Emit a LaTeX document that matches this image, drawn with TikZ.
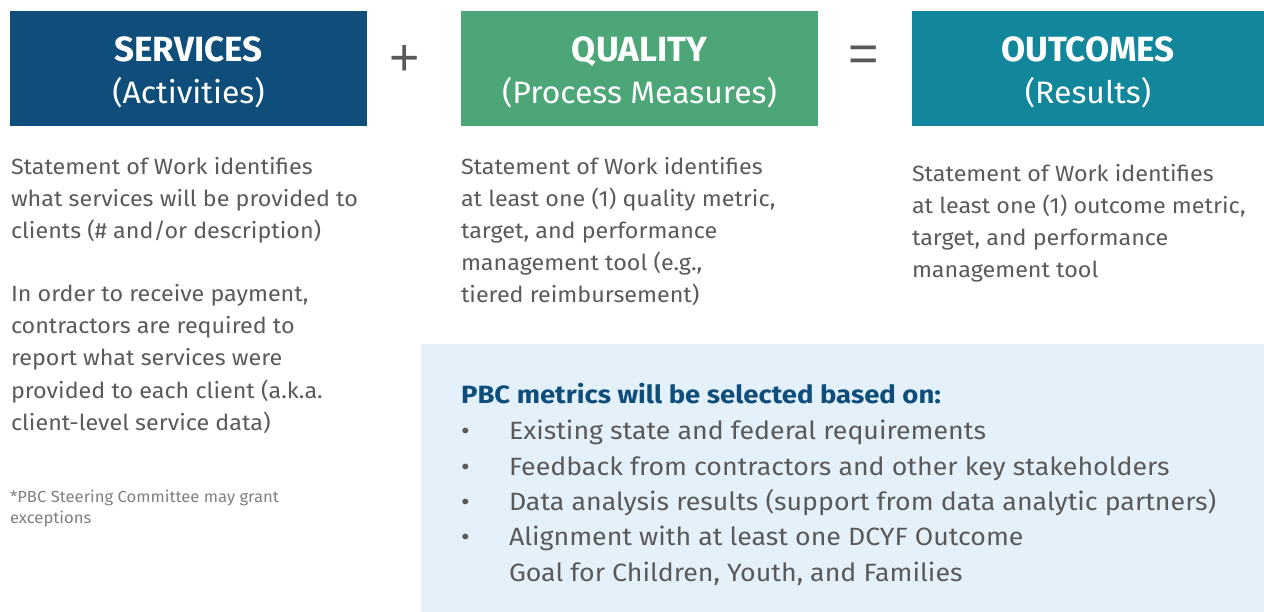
\documentclass[tikz,border=0pt]{standalone}
\usepackage{fontspec}
\setmainfont{Fira Sans}
\newfontfamily\bodyfont[FakeStretch=1.06]{Fira Sans}
\newfontfamily\bulfont[FakeStretch=1.07]{Fira Sans}
\newfontfamily\headfont[FakeStretch=1.10]{Fira Sans}
\newfontfamily\notefont[FakeStretch=1.04]{Fira Sans}
\newfontfamily\subfont[FakeStretch=1.03]{Fira Sans}
\newfontfamily\signfont{Liberation Sans}
\definecolor{svc}{HTML}{0F4E7A}
\definecolor{qual}{HTML}{4DA677}
\definecolor{outc}{HTML}{12869B}
\definecolor{panel}{HTML}{E4F1FB}
\definecolor{txt}{HTML}{5A5A5A}
\definecolor{note}{HTML}{808080}
\definecolor{sign}{HTML}{595959}
\begin{document}
\begin{tikzpicture}[x=1pt,y=-1pt,
  every node/.style={inner sep=0pt, outer sep=0pt},
  hdrbox/.style={anchor=north west, minimum height=115pt},
  ttl/.style={anchor=base, text=white, font=\fontsize{35}{40}\selectfont\bfseries},
  subttl/.style={anchor=base, text=white, font=\subfont\fontsize{31}{36}\selectfont},
  body/.style={anchor=base west, text=txt, font=\bodyfont\fontsize{22}{32}\selectfont},
  fnote/.style={anchor=base west, text=note, font=\notefont\fontsize{16}{21}\selectfont},
  bul/.style={anchor=base west, text=txt, font=\bulfont\fontsize{25}{35}\selectfont},
  opsign/.style={text=sign, font=\signfont\fontsize{52}{52}\selectfont}]
\useasboundingbox (0,0) rectangle (1264,612);
\fill[white] (0,0) rectangle (1264,612);
% header boxes
\node[hdrbox, fill=svc, minimum width=357pt] (svcbox) at (10,11) {};
\node[hdrbox, fill=qual, minimum width=357pt] (qualbox) at (461,11) {};
\node[hdrbox, fill=outc, minimum width=352pt] (outbox) at (912,11) {};
\node[ttl] (svct) at (188.5,62) {SERVICES};
\node[subttl] (svcs) at (188.5,104) {(Activities)};
\node[ttl] (qualt) at (639.5,62) {QUALITY};
\node[subttl] (quals) at (639.5,104) {(Process Measures)};
\node[ttl] (outt) at (1088,62) {OUTCOMES};
\node[subttl] (outs) at (1088,104) {(Results)};
\node[opsign] (plus) at (405,60) {+};
\node[opsign] (eq) at (864,59) {=};
% left column
\node[body] (l1) at (11,175) {Statement of Work identifies};
\node[body] (l2) at (11,207) {what services will be provided to};
\node[body] (l3) at (11,239) {clients (\# and/or description)};
\node[body] (l4) at (11,302) {In order to receive payment,};
\node[body] (l5) at (11,334) {contractors are required to};
\node[body] (l6) at (11,366) {report what services were};
\node[body] (l7) at (11,398) {provided to each client (a.k.a.};
\node[body] (l8) at (11,430) {client-level service data)};
\node[fnote] (f1) at (10,502) {*PBC Steering Committee may grant};
\node[fnote] (f2) at (10,523) {exceptions};
% middle column
\node[body] (m1) at (461,175) {Statement of Work identifies};
\node[body] (m2) at (461,207) {at least one (1) quality metric,};
\node[body] (m3) at (461,239) {target, and performance};
\node[body] (m4) at (461,271) {management tool (e.g.,};
\node[body] (m5) at (461,303) {tiered reimbursement)};
% right column
\node[body] (r1) at (912,182) {Statement of Work identifies};
\node[body] (r2) at (912,214) {at least one (1) outcome metric,};
\node[body] (r3) at (912,246) {target, and performance};
\node[body] (r4) at (912,278) {management tool};
% panel
\node[anchor=north west, fill=panel, minimum width=843pt, minimum height=268pt] (panelbox) at (421,344) {};
\node[anchor=base west, text=svc, font=\headfont\fontsize{25}{30}\selectfont\bfseries] (ph) at (461,403) {PBC metrics will be selected based on:};
\node[bul] (d1) at (461,439) {•};
\node[bul] (d2) at (461,475) {•};
\node[bul] (d3) at (461,510) {•};
\node[bul] (d4) at (461,545) {•};
\node[bul] (b1) at (509,439) {Existing state and federal requirements};
\node[bul] (b2) at (509,475) {Feedback from contractors and other key stakeholders};
\node[bul] (b3) at (509,510) {Data analysis results (support from data analytic partners)};
\node[bul] (b4) at (509,545) {Alignment with at least one DCYF Outcome};
\node[bul] (b5) at (509,581) {Goal for Children, Youth, and Families};
\end{tikzpicture}
\end{document}
